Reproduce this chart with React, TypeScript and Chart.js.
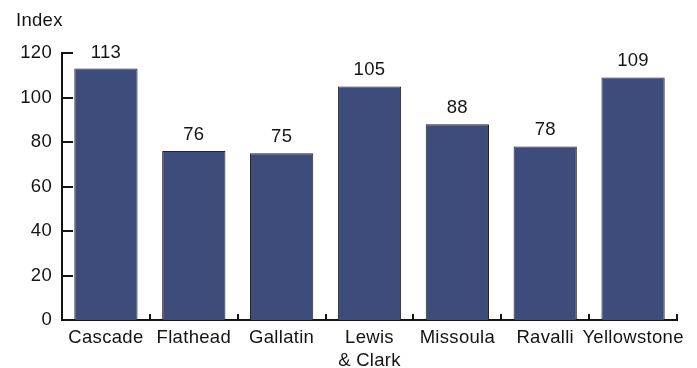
import React, { useEffect, useRef } from "react";
import { Chart, registerables } from "chart.js";

Chart.register(...registerables);

const counties: (string | string[])[] = [
  "Cascade",
  "Flathead",
  "Gallatin",
  ["Lewis", "& Clark"],
  "Missoula",
  "Ravalli",
  "Yellowstone",
];
const indexValues: number[] = [113, 76, 75, 105, 88, 78, 109];
const yTicks: number[] = [0, 20, 40, 60, 80, 100, 120];
const yTitle = "Index";

const FONT = "'Liberation Sans', Arial, Helvetica, sans-serif";
const FONT_SIZE = 18.5;
const INK = "#141414";
const SPACING = "0.3px";

// Slightly tracked-out lettering for every text the chart draws.
const tracking = {
  id: "tracking",
  beforeLayout(chart: any) {
    chart.ctx.letterSpacing = SPACING;
  },
  beforeDraw(chart: any) {
    chart.ctx.letterSpacing = SPACING;
  },
};

// Inward tick marks, value labels and the axis title.
const decorations = {
  id: "decorations",
  afterDatasetsDraw(chart: any) {
    const { ctx, chartArea, scales } = chart;
    const y = scales.y;
    ctx.save();
    ctx.letterSpacing = SPACING;
    ctx.strokeStyle = INK;
    ctx.lineWidth = 2;
    // y ticks, pointing right into the plot
    yTicks.forEach((v) => {
      const py = Math.round(y.getPixelForValue(v));
      ctx.beginPath();
      ctx.moveTo(chartArea.left, py);
      ctx.lineTo(chartArea.left + 11, py);
      ctx.stroke();
    });
    // x ticks at category boundaries, pointing up
    const n = counties.length;
    for (let i = 1; i <= n; i++) {
      const px = Math.round(chartArea.left + (i * (chartArea.right - chartArea.left)) / n);
      ctx.beginPath();
      ctx.moveTo(px, chartArea.bottom);
      ctx.lineTo(px, chartArea.bottom - 6);
      ctx.stroke();
    }
    // value labels above the bars
    ctx.fillStyle = INK;
    ctx.font = `${FONT_SIZE}px ${FONT}`;
    ctx.textAlign = "center";
    ctx.textBaseline = "alphabetic";
    const meta = chart.getDatasetMeta(0);
    meta.data.forEach((bar: any, i: number) => {
      ctx.fillText(String(indexValues[i]), bar.x, bar.y - 11);
    });
    // axis title
    ctx.textAlign = "left";
    ctx.fillText(yTitle, 16, 26);
    ctx.restore();
  },
};

export default function App() {
  const canvasRef = useRef<HTMLCanvasElement | null>(null);

  useEffect(() => {
    document.body.style.margin = "0";
    const canvas = canvasRef.current;
    if (!canvas) return;
    const chart = new Chart(canvas, {
      type: "bar",
      data: {
        labels: counties,
        datasets: [
          {
            data: indexValues,
            backgroundColor: "#3e4c7b",
            borderColor: "#222222",
            borderWidth: 1,
            barPercentage: 0.72,
            categoryPercentage: 1,
          },
        ],
      },
      options: {
        animation: false,
        responsive: false,
        maintainAspectRatio: false,
        layout: { padding: { top: 53, right: 20, left: 0, bottom: 0 } },
        plugins: {
          legend: { display: false },
          tooltip: { enabled: false },
        },
        scales: {
          x: {
            grid: { display: false, drawTicks: false },
            border: { display: true, color: INK, width: 2 },
            ticks: {
              color: INK,
              padding: 6,
              font: { family: FONT, size: FONT_SIZE, lineHeight: 1.25 },
              maxRotation: 0,
              autoSkip: false,
            },
            afterFit(scale: any) {
              scale.height = 48;
            },
          },
          y: {
            min: 0,
            max: 120,
            grid: { display: false, drawTicks: false },
            border: { display: true, color: INK, width: 2 },
            ticks: {
              color: INK,
              padding: 10,
              stepSize: 20,
              font: { family: FONT, size: FONT_SIZE },
            },
            afterFit(scale: any) {
              scale.width = 62;
            },
          },
        },
      },
      plugins: [tracking, decorations],
    });
    return () => chart.destroy();
  }, []);

  return (
    <div style={{ width: 697, height: 368, background: "#fff" }}>
      <canvas ref={canvasRef} width={697} height={368} style={{ display: "block" }} />
    </div>
  );
}
